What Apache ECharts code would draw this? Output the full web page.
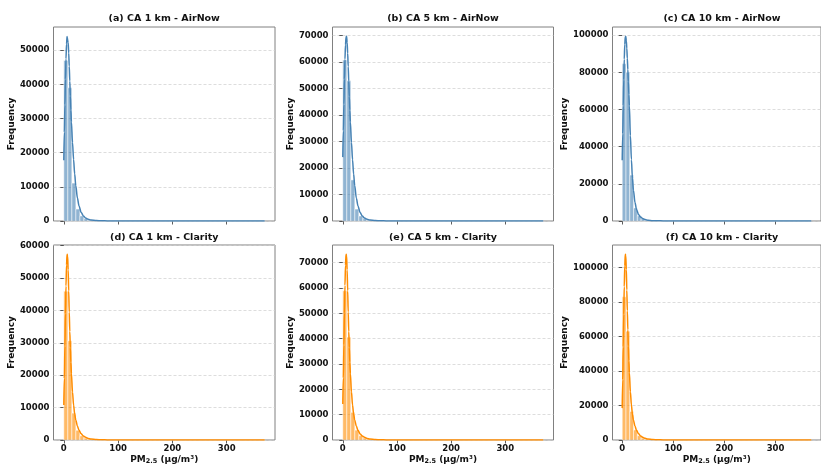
<!DOCTYPE html>
<html><head><meta charset="utf-8">
<script src="https://cdn.jsdelivr.net/npm/echarts@6/dist/echarts.min.js"></script>
<style>html,body{margin:0;padding:0;background:#fff}#c{width:821px;height:466px}</style>
</head><body><div id="c"></div>
<script>
// ---------- DATA ----------
const binWidth = 7.4;                    // PM2.5 histogram bin width (50 bins, 0..370)
const xTicks = [0, 100, 200, 300];
const titles = ['(a) CA 1 km - AirNow', '(b) CA 5 km - AirNow', '(c) CA 10 km - AirNow',
                '(d) CA 1 km - Clarity', '(e) CA 5 km - Clarity', '(f) CA 10 km - Clarity'];
const yTicksA = [0, 10000, 20000, 30000, 40000, 50000];
const yTicksB = [0, 10000, 20000, 30000, 40000, 50000, 60000, 70000];
const yTicksC = [0, 20000, 40000, 60000, 80000, 100000];
const yTicksD = [0, 10000, 20000, 30000, 40000, 50000, 60000];
const yTicksE = [0, 10000, 20000, 30000, 40000, 50000, 60000, 70000];
const yTicksF = [0, 20000, 40000, 60000, 80000, 100000];

// histogram counts per bin
const countsA = [47000,39000,11100,3500,1500,700,350,180,100,60,40,30,20,15,10,8,6,5,4,3,3,2,2,2,1,1,1,1,1,1,1,1,0,0,1,0,0,0,0,0,0,0,0,0,0,0,0,0,0,1];
const countsB = [60700,52900,15500,4500,1900,900,450,230,130,80,50,35,25,18,12,9,7,5,4,3,3,2,2,2,1,1,1,1,1,1,1,1,0,0,1,0,0,0,0,0,0,0,0,0,0,0,0,0,0,1];
const countsC = [84600,80000,24700,7000,2800,1300,650,330,180,110,70,50,35,25,18,13,10,7,5,4,3,3,2,2,2,1,1,1,1,1,1,1,1,0,1,0,0,0,0,0,0,0,0,0,0,0,0,0,0,1];
const countsD = [45900,30600,8300,3000,1300,600,300,150,80,50,35,25,18,12,9,7,5,4,3,3,2,2,2,1,1,1,1,1,1,1,1,0,0,1,0,0,0,0,0,0,0,0,0,0,0,0,0,0,0,1];
const countsE = [58900,40600,10900,3900,1700,800,400,200,110,60,40,28,20,14,10,8,6,5,4,3,3,2,2,2,1,1,1,1,1,1,1,0,0,1,0,0,0,0,0,0,0,0,0,0,0,0,0,0,0,1];
const countsF = [83100,63100,16500,5800,2500,1100,550,280,150,90,60,42,30,21,15,11,8,6,5,4,3,3,2,2,2,1,1,1,1,1,1,1,0,1,0,0,0,0,0,0,0,0,0,0,0,0,0,0,0,1];

// KDE curves (scaled to counts), sampled at kdeX
const kdeX = [0,1,2,3,4,5,6,7,8,9,10,11,12,13,14,16,18,20,22,25,28,32,36,40,45,50,60,70,80,100,130,170,220,280,370];
const kdeA = [17800,26000,34000,41500,47500,51800,54000,54100,52300,49200,45300,41000,36600,32500,29000,23000,18000,13800,10400,6800,4400,2500,1500,900,500,300,120,60,30,12,5,2,1,0,0];
const kdeB = [24100,34000,44000,53500,61000,66500,69400,69700,67300,63300,58300,52700,47000,41800,37300,29600,23100,17700,13400,8700,5700,3200,1900,1150,650,380,150,75,38,15,6,2,1,0,0];
const kdeC = [32700,47000,62000,76000,87000,95000,99000,99400,97000,93000,87500,81500,75000,68000,62000,46000,33000,23000,16500,10000,6200,3500,2100,1300,750,450,180,90,45,18,7,3,1,0,0];
const kdeD = [10800,19000,29000,39000,47500,54000,57300,56800,52500,46000,39500,33500,28500,24000,20500,14800,10800,8000,6200,4300,3000,1900,1250,850,500,320,130,60,30,10,4,2,1,0,0];
const kdeE = [14200,24500,37500,50000,61000,69000,73300,72700,67200,58900,50500,42800,36500,30700,26200,19000,13800,10200,7900,5500,3800,2400,1600,1100,640,410,170,80,38,13,5,2,1,0,0];
const kdeF = [18500,35000,54000,73000,89000,101000,107800,107000,99000,87000,75000,64000,54500,46000,39000,28000,20300,15000,11600,8100,5600,3600,2350,1600,950,600,240,110,55,19,7,3,1,0,0];

const allCounts = [countsA, countsB, countsC, countsD, countsE, countsF];
const allKde = [kdeA, kdeB, kdeC, kdeD, kdeE, kdeF];
const allYTicks = [yTicksA, yTicksB, yTicksC, yTicksD, yTicksE, yTicksF];

// ---------- LAYOUT / STYLE ----------
const cols = [{left: 53.5, width: 221.5}, {left: 332.5, width: 221}, {left: 612.5, width: 220}];
const rows = [{top: 27, height: 194}, {top: 245, height: 195}];
const lineColors = ['#4682b4', '#4682b4', '#4682b4', '#ff8c00', '#ff8c00', '#ff8c00'];
const barColors = ['rgba(70,130,180,0.6)', 'rgba(70,130,180,0.6)', 'rgba(70,130,180,0.6)',
                   'rgba(255,140,0,0.6)', 'rgba(255,140,0,0.6)', 'rgba(255,140,0,0.6)'];
const FONT = 'DejaVu Sans';

const grid = [], xAxis = [], yAxis = [], series = [], graphic = [];
for (let i = 0; i < 6; i++) {
  const c = cols[i % 3], r = rows[Math.floor(i / 3)];
  const bottomRow = i >= 3;
  grid.push({left: c.left, top: r.top, width: c.width, height: r.height,
    show: true, borderColor: '#808080', borderWidth: 1, backgroundColor: 'transparent'});
  const ymax = Math.max(Math.max(...allCounts[i]), Math.max(...allKde[i])) * 1.05;
  xAxis.push({type: 'value', gridIndex: i, min: -19, max: 389,
    axisLine: {show: false},
    axisTick: {show: true, length: 3.5, customValues: xTicks, lineStyle: {color: '#333', width: 0.8}},
    axisLabel: {show: bottomRow, customValues: xTicks, margin: 4, fontSize: 8.5, fontWeight: 'bold', color: '#111', fontFamily: FONT},
    splitLine: {show: false},
    name: bottomRow ? '{a|PM}{s|2.5}{a| (µg/m³)}' : '', nameLocation: 'middle', nameGap: 14,
    nameTextStyle: {rich: {
      a: {fontSize: 9, fontWeight: 'bold', color: '#111', fontFamily: FONT},
      s: {fontSize: 6.5, fontWeight: 'bold', color: '#111', fontFamily: FONT, verticalAlign: 'bottom', padding: [4, 0, 0, 0]}
    }}
  });
  yAxis.push({type: 'value', gridIndex: i, min: 0, max: ymax,
    axisLine: {show: false},
    axisTick: {show: true, length: 3.5, customValues: allYTicks[i], lineStyle: {color: '#333', width: 0.8}},
    axisLabel: {customValues: allYTicks[i], formatter: v => String(v), margin: 4, fontSize: 8.5, fontWeight: 'bold', color: '#111', fontFamily: FONT},
    splitLine: {show: true, lineStyle: {color: '#cfcfcf', type: [3, 2], width: 0.7}},
    name: 'Frequency', nameLocation: 'middle', nameGap: 30, nameRotate: 90,
    nameTextStyle: {fontSize: 9, fontWeight: 'bold', color: '#111', fontFamily: FONT}
  });
  const binData = allCounts[i].map((v, k) => [k * binWidth, (k + 1) * binWidth, v]);
  const fill = barColors[i];
  series.push({type: 'custom', xAxisIndex: i, yAxisIndex: i, data: binData,
    encode: {x: [0, 1], y: 2}, z: 2,
    renderItem: function (params, api) {
      const p0 = api.coord([api.value(0), api.value(2)]);
      const p1 = api.coord([api.value(1), 0]);
      return {type: 'rect', shape: {x: p0[0], y: p0[1], width: p1[0] - p0[0], height: p1[1] - p0[1]},
        style: {fill: fill, stroke: '#ffffff', lineWidth: 0.5}};
    }});
  series.push({type: 'line', xAxisIndex: i, yAxisIndex: i, z: 3,
    data: kdeX.map((x, k) => [x, allKde[i][k]]),
    showSymbol: false, smooth: 0.3, smoothMonotone: 'x',
    lineStyle: {color: lineColors[i], width: 1.5}, itemStyle: {color: lineColors[i]}});
  graphic.push({type: 'text', x: c.left + c.width / 2 - (i % 3 === 2 ? 0.5 : 0), y: bottomRow ? 237.5 : 19,
    style: {text: titles[i], fill: '#111', font: 'bold 9.5px "DejaVu Sans"', textAlign: 'center', textVerticalAlign: 'middle'}});
}

const chart = echarts.init(document.getElementById('c'), null, {renderer: 'canvas'});
chart.setOption({animation: false, backgroundColor: '#fff', grid, xAxis, yAxis, series, graphic});
</script></body></html>
